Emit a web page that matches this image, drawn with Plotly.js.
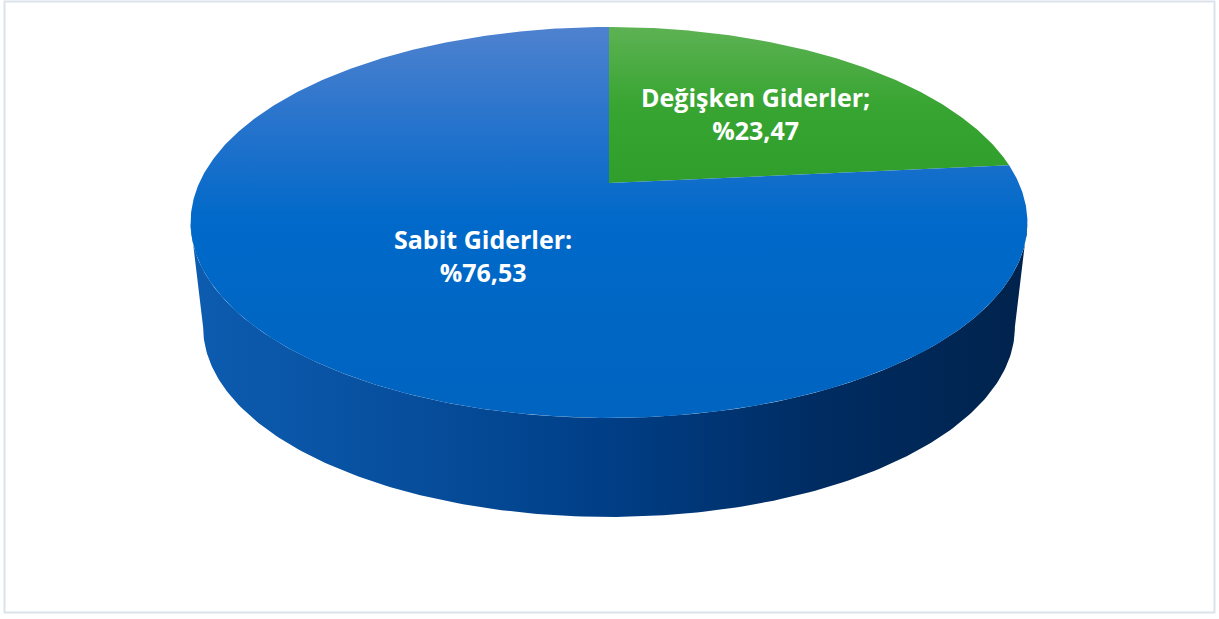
<!DOCTYPE html>
<html>
<head>
<meta charset="utf-8">
<script src="https://cdn.plot.ly/plotly-3.0.1.min.js"></script>
<style>html,body{margin:0;padding:0;background:#fff;}#chart{width:1219px;height:619px;}</style>
</head>
<body>
<div id="chart"></div>
<script>
// ---- data ----
const categories = ["Değişken Giderler", "Sabit Giderler"];
const values = [23.47, 76.53];
const labelTexts = ["Değişken Giderler;<br>%23,47", "Sabit Giderler:<br>%76,53"];

// ---- geometry of the tilted (perspective) pie, in pixel units ----
const W = 1219, H = 619;
const cx = 609, cy = 183;      // pie centre on top face
const A = 409.8, B = 187.5, K = 0.202; // perspective ellipse params
const depth = 106, sBot = 0.97; // side depth and bottom-face scale

function proj(thetaDeg, f) {
  const t = thetaDeg * Math.PI / 180;
  const u = Math.sin(t) * f, v = Math.cos(t) * f;
  const w = 1 + K * v;
  return [cx + A * u / w, cy - B * v / w];
}
function projBottom(thetaDeg) {
  const p = proj(thetaDeg, 1);
  return [cx + sBot * (p[0] - cx), cy + depth + sBot * (p[1] - cy)];
}
const toY = sy => H - sy;

const total = values.reduce((a, b) => a + b, 0);
const traces = [];

// side (front wall)
const thR = Math.acos(-K) * 180 / Math.PI;   // right silhouette angle
const thL = 360 - thR;                        // left silhouette angle
{
  const xs = [], ys = [];
  for (let i = 0; i <= 200; i++) {
    const th = thR + (thL - thR) * i / 200;
    const p = proj(th, 1); xs.push(p[0]); ys.push(toY(p[1]));
  }
  for (let i = 200; i >= 0; i--) {
    const th = thR + (thL - thR) * i / 200;
    const p = projBottom(th); xs.push(p[0]); ys.push(toY(p[1]));
  }
  traces.push({
    type: 'scatter', mode: 'lines', x: xs, y: ys, fill: 'toself',
    line: {width: 0, color: 'rgba(0,0,0,0)'}, hoverinfo: 'skip',
    fillgradient: {type: 'horizontal', colorscale: [
      [0, '#0d5cb0'], [0.25, '#074f9e'], [0.5, '#003e86'], [0.75, '#002c62'], [1, '#00234c']
    ]}
  });
}

// top-face slices
const sliceScales = [
  [[0, '#2f9e2a'], [0.5, '#38a532'], [1, '#5db253']],
  [[0, '#0064c0'], [0.5, '#0069c9'], [0.75, '#2673cc'], [1, '#4f82cf']]
];
let start = 0;
values.forEach((val, i) => {
  const end = start + val / total * 360;
  const xs = [cx], ys = [toY(cy)];
  const n = Math.max(20, Math.round((end - start) * 2));
  for (let j = 0; j <= n; j++) {
    const p = proj(start + (end - start) * j / n, 1);
    xs.push(p[0]); ys.push(toY(p[1]));
  }
  xs.push(cx); ys.push(toY(cy));
  traces.push({
    type: 'scatter', mode: 'lines', x: xs, y: ys, fill: 'toself',
    name: categories[i],
    line: {width: 0, color: 'rgba(0,0,0,0)'}, hoverinfo: 'skip',
    fillgradient: {type: 'vertical', colorscale: sliceScales[i]}
  });
  start = end;
});

const labelPos = [[755, 113], [483, 255]];
const annotations = labelTexts.map((t, i) => ({
  x: labelPos[i][0], y: toY(labelPos[i][1]), xref: 'x', yref: 'y',
  text: '<b>' + t + '</b>', showarrow: false, align: 'center',
  font: {family: 'Open Sans, sans-serif', size: 25, color: '#ffffff'}
}));

const layout = {
  width: W, height: H,
  margin: {l: 0, r: 0, t: 0, b: 0},
  paper_bgcolor: '#ffffff', plot_bgcolor: '#ffffff',
  showlegend: false,
  xaxis: {range: [0, W], visible: false, fixedrange: true},
  yaxis: {range: [0, H], visible: false, fixedrange: true},
  annotations: annotations,
  shapes: [{
    type: 'rect', xref: 'x', yref: 'y',
    x0: 4.5, x1: 1214.5, y0: toY(612.5), y1: toY(1.5),
    line: {color: '#dce2e9', width: 2}, fillcolor: 'rgba(0,0,0,0)', layer: 'below'
  }]
};

Plotly.newPlot('chart', traces, layout, {staticPlot: true, displayModeBar: false});
</script>
</body>
</html>
